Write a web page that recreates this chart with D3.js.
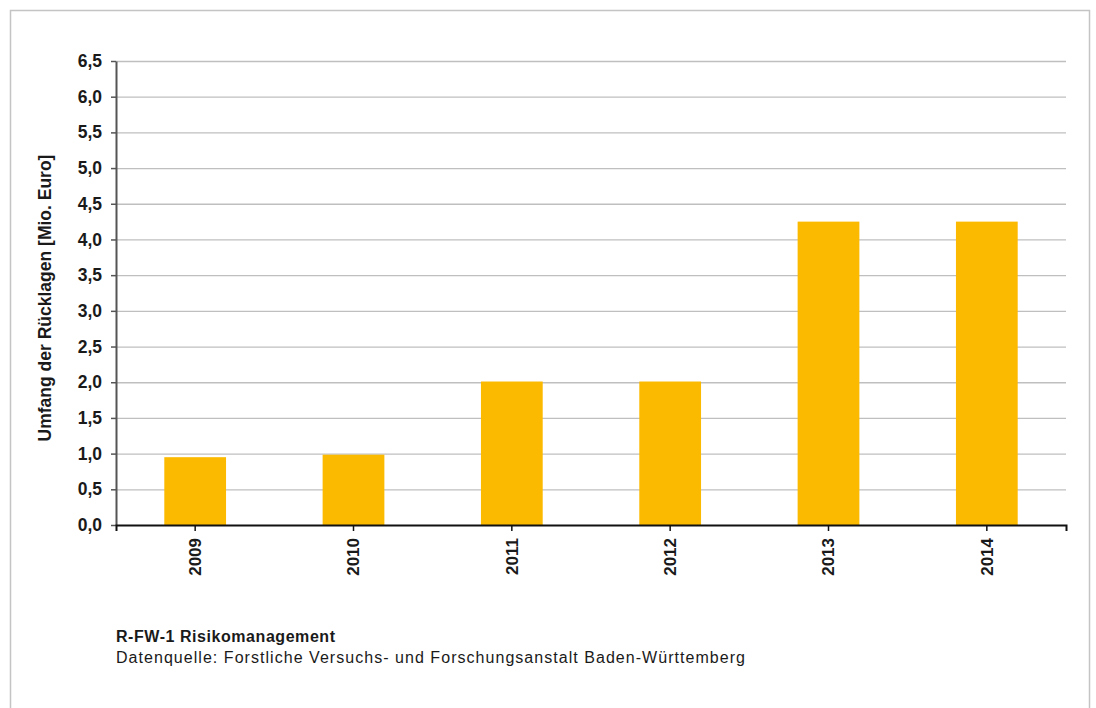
<!DOCTYPE html>
<html><head><meta charset="utf-8">
<script src="https://cdn.jsdelivr.net/npm/d3@7"></script>
<style>body{margin:0;background:#fff}svg{display:block}</style>
</head><body>
<svg id="c" width="1096" height="708"></svg>
<script>
const categories = ["2009","2010","2011","2012","2013","2014"];
const values = [0.95, 0.985, 2.01, 2.01, 4.25, 4.25];
const yTicks = [0,0.5,1,1.5,2,2.5,3,3.5,4,4.5,5,5.5,6,6.5];
const yLabel = "Umfang der Rücklagen [Mio. Euro]";
const title = "R-FW-1 Risikomanagement";
const source = "Datenquelle: Forstliche Versuchs- und Forschungsanstalt Baden-Württemberg";

const svg = d3.select("#c");
const font = "'Liberation Sans', Arial, sans-serif";
svg.append("rect").attr("x",10.5).attr("y",10.5).attr("width",1079).attr("height",720)
  .attr("fill","none").attr("stroke","#c4c4c4").attr("stroke-width",1.5);

const L=116, R=1066, T=61, B=525;
const x = d3.scaleBand().domain(categories).range([L,R]).paddingInner(0.61).paddingOuter(0.305);
const y = d3.scaleLinear().domain([0,6.5]).range([B,T]);

svg.append("g").selectAll("line").data(yTicks.filter(d=>d>0)).join("line")
  .attr("x1",L).attr("x2",R).attr("y1",d=>y(d)+0.5).attr("y2",d=>y(d)+0.5)
  .attr("stroke","#bfbfbf").attr("stroke-width",1.3);

svg.append("g").selectAll("rect").data(values).join("rect")
  .attr("x",(d,i)=>x(categories[i])).attr("width",x.bandwidth())
  .attr("y",d=>y(d)).attr("height",d=>B-y(d)).attr("fill","#fbba00");

const ya = svg.append("g").attr("transform",`translate(${L},0)`)
  .call(d3.axisLeft(y).tickValues(yTicks).tickSize(5).tickSizeOuter(0).tickPadding(9)
    .tickFormat(d=>d3.format(".1f")(d).replace(".",",")));
ya.select(".domain").attr("stroke","#555").attr("stroke-width",2);
ya.selectAll(".tick line").attr("stroke","#555").attr("stroke-width",1.5);
ya.selectAll("text").attr("font-family",font).attr("font-size",17.5).attr("font-weight","bold").attr("fill","#1a1a1a");

const xa = svg.append("g").attr("transform",`translate(0,${B})`)
  .call(d3.axisBottom(x).tickSize(6).tickSizeOuter(6).tickPadding(8));
xa.select(".domain").attr("stroke","#111").attr("stroke-width",2);
xa.selectAll(".tick line").attr("stroke","#111").attr("stroke-width",1.5);
xa.selectAll("text").attr("font-family",font).attr("font-size",17).attr("font-weight","bold").attr("fill","#1a1a1a")
  .attr("transform","rotate(-90)").attr("text-anchor","end").attr("dy","0.35em").attr("x",-13).attr("y",0);

svg.append("text").attr("transform",`translate(51,298) rotate(-90)`)
  .attr("text-anchor","middle").attr("font-family",font).attr("font-size",17.5).attr("font-weight","bold")
  .attr("fill","#1a1a1a").text(yLabel);

svg.append("text").attr("x",116).attr("y",642).attr("font-family",font)
  .attr("font-size",16).attr("font-weight","bold").attr("fill","#1a1a1a")
  .attr("textLength",219).attr("lengthAdjust","spacing").text(title);
svg.append("text").attr("x",116).attr("y",663).attr("font-family",font)
  .attr("font-size",16).attr("fill","#1a1a1a")
  .attr("textLength",629).attr("lengthAdjust","spacing").text(source);
</script>
</body></html>
